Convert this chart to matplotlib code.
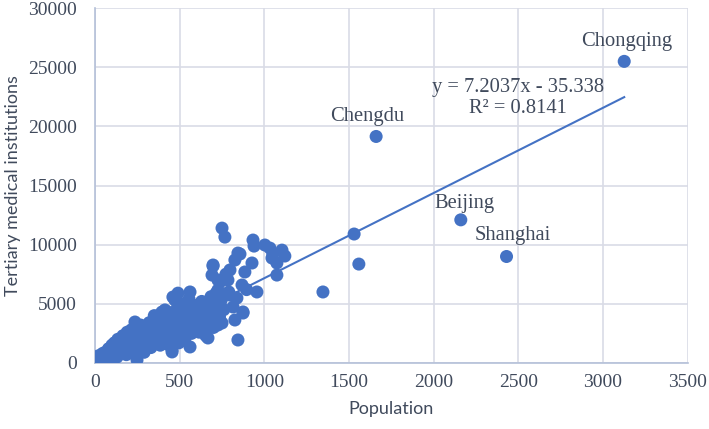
import numpy as np
import matplotlib.pyplot as plt

# city points: population vs tertiary medical institutions
pop = [5, 15, 25, 30, 40, 50, 55, 60, 70, 80, 85, 90, 95, 100, 20, 45, 75, 10,
       110, 115, 120, 130, 135, 140, 150, 160, 165, 170, 180, 185, 190, 195, 200,
       210, 215, 220, 230, 236, 240, 248, 250, 260, 265, 270, 280, 285, 290, 295, 300,
       310, 315, 320, 330, 340, 345, 350, 360, 365, 372, 380, 385, 390, 395, 400,
       410, 413, 413, 420, 425, 431, 440, 445, 455, 455, 460, 465, 470, 472, 480,
       485, 490, 490, 495, 500,
       505, 510, 520, 525, 530, 540, 545, 550, 555, 561, 561, 570, 575, 580, 590, 595, 600,
       608, 615, 620, 630, 640, 645, 655, 661, 667, 670, 680, 685, 691, 691, 697, 697, 700,
       710, 715, 726, 726, 726, 726, 735, 738, 745, 750, 750, 760, 767, 773, 785, 790, 797, 797,
       815, 826, 826, 838, 844, 844, 856, 868, 874, 874, 885, 895,
       927, 933, 939, 956, 1003, 1033, 1045, 1074, 1074, 1104, 1121, 1050,
       1346, 1530, 1558, 1660, 2160, 2430, 3125]
inst = [50, 200, 100, 400, 250, 600, 150, 900, 450, 1200, 700, 300, 1000, 1500, 600, 800, 200, 300,
        800, 1700, 1300, 500, 2000, 1100, 1600, 900, 2300, 1400, 1900, 700, 2600, 1200, 2100,
        1500, 2800, 1000, 2400, 3460, 1800, 250, 2900, 1300, 2200, 3200, 1700, 2600, 900, 3000, 2000,
        1950, 2800, 3400, 1300, 3200, 2400, 4000, 1800, 3000, 2200, 3700, 1500, 2600, 4300, 3300,
        2100, 4220, 4480, 3000, 1600, 4300, 2700, 3600, 930, 1100, 5570, 2300, 3900, 5320, 3100,
        4600, 2200, 5900, 1700, 3500,
        4200, 2800, 3380, 5000, 2000, 4500, 3000, 3800, 5400, 1350, 6000, 2500, 4100, 3300, 4800, 2900, 3900,
        4900, 2600, 3630, 5200, 3100, 4400, 2300, 5070, 2110, 3700, 4200, 5600, 4050, 7430, 8280, 8190, 3000,
        4800, 5900, 3210, 4650, 6170, 7010, 3900, 6840, 5300, 3380, 11400, 4500, 10640, 7500, 7010, 6000, 5740, 7860,
        4730, 3630, 8700, 5490, 1940, 9290, 9210, 6590, 4220, 4310, 7690, 6200,
        8450, 10390, 9880, 6000, 9970, 9710, 8870, 8450, 7430, 9540, 9040, 9200,
        6000, 10900, 8360, 19150, 12100, 9000, 25500]

# labelled cities
city_names = ["Chongqing", "Chengdu", "Beijing", "Shanghai"]
city_label_x = [3140, 1606, 2184, 2467]
city_label_y = [27200, 20800, 13450, 10750]

# linear trend line from the chart
slope = 7.2037
intercept = -35.338
r2 = 0.8141

blue = "#4472C4"
text_col = "#404a5c"
grid_col = "#D9DCE6"
serif = "Liberation Serif"

fig = plt.figure(figsize=(7.09, 4.29), dpi=100)
ax = fig.add_axes([0.134, 0.154, 0.836, 0.827])

ax.scatter(pop, inst, s=88, color=blue, edgecolors="none", zorder=3)

xs = np.array([min(pop), max(pop)])
ax.plot(xs, slope * xs + intercept, color=blue, lw=1.5, zorder=2)

ax.text(2497, 23300, f"y = {slope}x - {-intercept}", ha="center", va="center",
        fontsize=14.8, family=serif, color=text_col)
ax.text(2497, 21550, f"R² = {r2}", ha="center", va="center",
        fontsize=14.8, family=serif, color=text_col)

for name, lx, ly in zip(city_names, city_label_x, city_label_y):
    ax.text(lx, ly, name, ha="center", va="center", fontsize=14.8,
            family=serif, color=text_col)

ax.set_xlim(0, 3500)
ax.set_ylim(0, 30000)
ax.set_xticks(np.arange(0, 3501, 500))
ax.set_yticks(np.arange(0, 30001, 5000))
ax.grid(True, color=grid_col, lw=1.2, zorder=0)
ax.set_axisbelow(True)
for side in ["top", "right"]:
    ax.spines[side].set_visible(False)
for side in ["left", "bottom"]:
    ax.spines[side].set_color("#B4C0D8")
    ax.spines[side].set_linewidth(1.2)
ax.tick_params(length=0, labelsize=14, colors=text_col)
ax.tick_params(axis="y", pad=13)
ax.tick_params(axis="x", pad=8)
for lab in ax.get_xticklabels() + ax.get_yticklabels():
    lab.set_family(serif)

ax.set_xlabel("Population", fontsize=13, family="Lato", color=text_col, labelpad=7)
ax.set_ylabel("Tertiary medical institutions", fontsize=13, family="Lato",
              color=text_col, labelpad=5)

fig.savefig("out.png", dpi=100)
